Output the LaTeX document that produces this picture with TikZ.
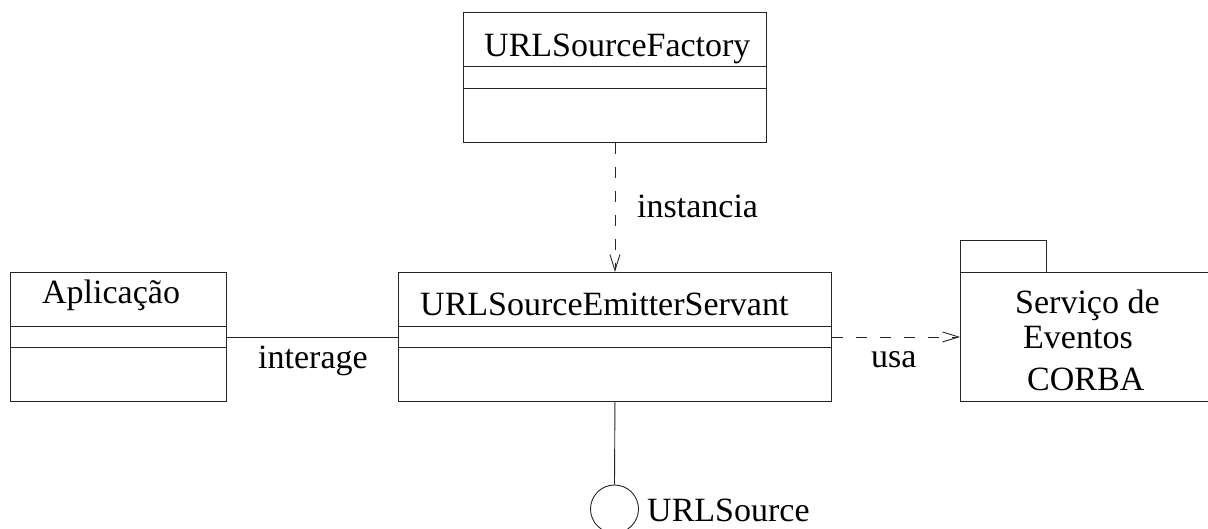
\documentclass[tikz,border=0pt]{standalone}
\usepackage{fontspec}
\setmainfont{Liberation Serif}
\usetikzlibrary{arrows.meta}
\tikzset{
  ln/.style={line width=0.9pt, draw=black!85},
  box/.style={ln, rectangle, inner sep=0pt, anchor=north west},
  lbl/.style={inner sep=0pt, anchor=base west, font=\fontsize{34}{40}\selectfont},
  dep/.style={ln, dash pattern=on 11pt off 13pt, -{Straight Barb[length=16pt,width=10pt,line width=0.9pt]}},
}
\begin{document}
\begin{tikzpicture}[x=1pt,y=-1pt]
\useasboundingbox (0,0) rectangle (1208,528);
% URLSourceFactory
\node[box, minimum width=303pt, minimum height=130pt] (fac) at (463,12) {};
\draw[ln] (463,66) -- (766,66) (463,88) -- (766,88);
\node[lbl] (facT) at (484,56) {URLSourceFactory};
% Aplicacao
\node[box, minimum width=216pt, minimum height=129pt] (app) at (10,272) {};
\draw[ln] (10,326) -- (226,326) (10,347) -- (226,347);
\node[lbl] (appT) at (42,303) {Aplicação};
% Servant
\node[box, minimum width=433pt, minimum height=129pt] (srv) at (398,272) {};
\draw[ln] (398,326) -- (831,326) (398,347) -- (831,347);
\node[lbl] (srvT) at (420,315) {URLSourceEmitterServant};
% Package
\node[box, minimum width=86pt, minimum height=32pt] (tab) at (960,240) {};
\node[box, minimum width=270pt, minimum height=129pt] (pkg) at (960,272) {};
\node[lbl] (pkg1) at (1015,313) {Serviço de};
\node[lbl] (pkg2) at (1023,348) {Eventos};
\node[lbl] (pkg3) at (1027,390) {CORBA};
% Interface
\node[ln, circle, draw, minimum size=48pt, inner sep=0pt] (ifc) at (614.5,509) {};
\node[lbl] (ifcT) at (647,521) {URLSource};
% Connectors
\draw[dep] (fac.south) -- (srv.north);
\node[lbl] (inst) at (637,217) {instancia};
\draw[ln] (app.east) -- (srv.west);
\node[lbl] (inter) at (258,368) {interage};
\draw[dep] (srv.east) -- (pkg.west);
\node[lbl] (usa) at (871,367) {usa};
\draw[ln] (srv.south) -- (ifc.north);
\end{tikzpicture}
\end{document}
